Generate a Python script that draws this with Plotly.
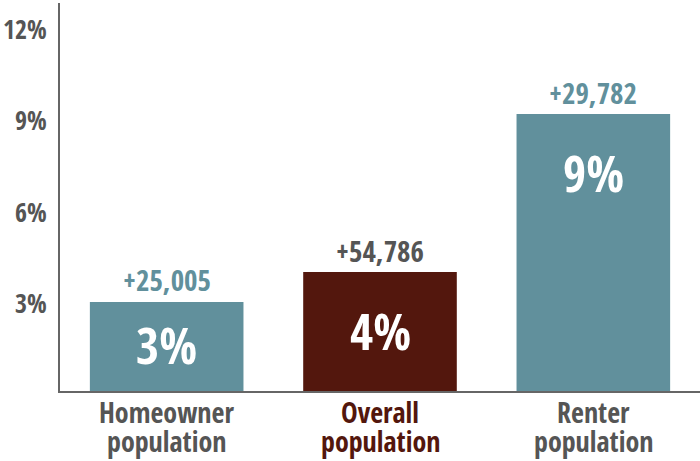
import plotly.graph_objects as go

categories = ["Homeowner population", "Overall population", "Renter population"]
cat_line1 = ["Homeowner", "Overall", "Renter"]
cat_line2 = ["population", "population", "population"]
values = [2.92, 3.9, 9.08]
inside_labels = ["3%", "4%", "9%"]
change_labels = ["+25,005", "+54,786", "+29,782"]
tick_vals = [3, 6, 9, 12]
tick_text = ["3%", "6%", "9%", "12%"]

TEAL = "#61909C"
MAROON = "#53170D"
GRAY = "#555555"
bar_colors = [TEAL, MAROON, TEAL]
change_colors = [TEAL, GRAY, TEAL]
cat_colors = [GRAY, MAROON, GRAY]
inside_shift = [-43, -59, -59]

FONT = "Open Sans Condensed, Roboto Condensed, DejaVu Sans Condensed, sans-serif"

fig = go.Figure(go.Bar(
    x=categories, y=values, marker=dict(color=bar_colors, line=dict(width=0)),
    hoverinfo="skip",
))

for c, v, t, col in zip(categories, values, change_labels, change_colors):
    fig.add_annotation(x=c, y=v, text="<b>%s</b>" % t, showarrow=False,
                       yanchor="middle", yshift=22,
                       font=dict(family=FONT, size=29, color=col))
for c, v, t, s in zip(categories, values, inside_labels, inside_shift):
    fig.add_annotation(x=c, y=v, text="<b>%s</b>" % t, showarrow=False,
                       yanchor="middle", yshift=s,
                       font=dict(family=FONT, size=50, color="white"))
for c, l1, l2, col in zip(categories, cat_line1, cat_line2, cat_colors):
    fig.add_annotation(x=c, y=0, yref="paper", text="<b>%s</b>" % l1, showarrow=False,
                       yanchor="middle", yshift=-21,
                       font=dict(family=FONT, size=28, color=col))
    fig.add_annotation(x=c, y=0, yref="paper", text="<b>%s</b>" % l2, showarrow=False,
                       yanchor="middle", yshift=-50,
                       font=dict(family=FONT, size=28, color=col))
for tv, tt in zip(tick_vals, tick_text):
    fig.add_annotation(x=0, xref="paper", y=tv, yref="y", text="<b>%s</b>" % tt,
                       showarrow=False, xanchor="right", yanchor="middle",
                       xshift=-11, yshift=-4,
                       font=dict(family=FONT, size=26, color=GRAY))

fig.update_layout(
    width=700, height=461,
    margin=dict(l=60, r=0, t=3, b=70),
    paper_bgcolor="white", plot_bgcolor="white",
    bargap=0.28, showlegend=False,
    font=dict(family=FONT),
)
fig.update_xaxes(
    showticklabels=False, automargin=False,
    showline=True, linecolor="#666666", linewidth=2, ticks="",
    showgrid=False, zeroline=False,
)
fig.update_yaxes(
    range=[0, 12.72], tickvals=tick_vals, showticklabels=False, automargin=False,
    showline=True, linecolor="#666666", linewidth=2, ticks="",
    showgrid=False, zeroline=False,
)

fig.write_html("out.html", config={"displayModeBar": False},
               post_script="document.body.style.margin='0';")
